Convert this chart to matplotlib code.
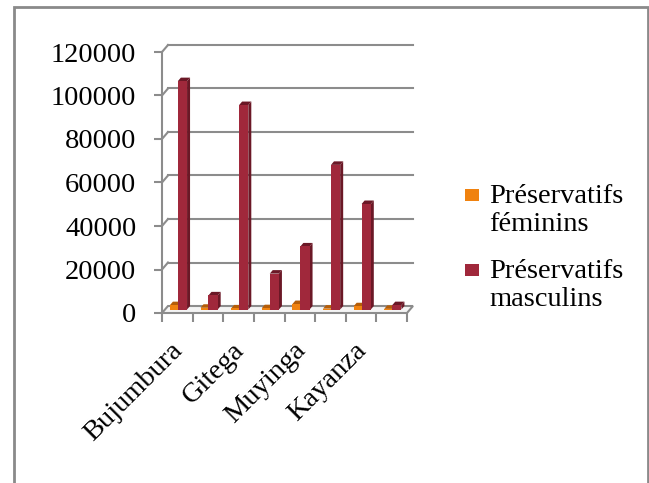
import matplotlib
matplotlib.use("Agg")
import matplotlib.pyplot as plt
import matplotlib.patches as mpatches
import numpy as np

# ── Data ───────────────────────────────────────────────
# only every other province name is printed under the axis
CATEGORIES = ["Bujumbura", "", "Gitega", "", "Muyinga", "", "Kayanza", ""]
FEMININS   = [2000, 800, 500, 600, 2500, 400, 1500, 300]
MASCULINS  = [105000, 6500, 94000, 16500, 29000, 66500, 48500, 2000]
SERIES     = ["Préservatifs\nféminins", "Préservatifs\nmasculins"]
YTICKS     = [0, 20000, 40000, 60000, 80000, 100000, 120000]

# ── Style ──────────────────────────────────────────────
FONT      = "Liberation Serif"
FS        = 20.5
COL_FEM   = "#f0820f"
COL_FEM_D = "#b55d08"
COL_MAS   = "#a0283b"
COL_MAS_D = "#6b1826"
COL_GRID  = "#8c8c8c"

plt.rcParams.update({
    "font.family": FONT,
    "figure.facecolor": "white",
    "axes.facecolor": "none",
})

W, H = 649, 483
fig = plt.figure(figsize=(W / 100, H / 100), dpi=100)

# front plane of the plot area, in pixels
X0, X1, Y0, Y1 = 162, 407, 313, 52
ax = fig.add_axes([X0 / W, 1 - Y0 / H, (X1 - X0) / W, (Y0 - Y1) / H])
n = len(CATEGORIES)
ax.set_xlim(0, n)
ax.set_ylim(0, 120000)
for s in ax.spines.values():
    s.set_visible(False)

# depth of the walls converted from pixels to data units
px_x = n / (X1 - X0)
px_y = 120000 / (Y0 - Y1)
DX, DY = 6 * px_x, 7 * px_y
BDX, BDY = 3 * px_x, 3.5 * px_y   # depth of one bar

# floor
floor = mpatches.Polygon([(0, 0), (n, 0), (n + DX, DY), (DX, DY)],
                         closed=True, facecolor="#f4f4f4",
                         edgecolor=COL_GRID, linewidth=1.5,
                         clip_on=False, zorder=1)
ax.add_patch(floor)

# side wall edge and back wall gridlines
ax.plot([0, 0], [0, 120000], color=COL_GRID, lw=1.5, clip_on=False, zorder=1)
for v in YTICKS[1:]:
    ax.plot([0, DX], [v, v + DY], color=COL_GRID, lw=1.5,
            clip_on=False, zorder=1)
    ax.plot([DX, n + DX], [v + DY, v + DY], color=COL_GRID, lw=1.5,
            clip_on=False, zorder=1)


def bar3d(xc, w, h, front, side):
    x0 = xc - w / 2 + DX / 2
    x1 = x0 + w
    b = DY / 2
    ax.fill([x1, x1 + BDX, x1 + BDX, x1], [b, b + BDY, b + h + BDY, b + h],
            color=side, lw=0, zorder=3, clip_on=False)
    ax.fill([x0, x1, x1 + BDX, x0 + BDX],
            [b + h, b + h, b + h + BDY, b + h + BDY],
            color=side, lw=0, zorder=3, clip_on=False)
    ax.bar(x0, h, width=w, bottom=b, align="edge", color=front,
           lw=0, zorder=4, clip_on=False)


for i in range(n):
    bar3d(i + 0.29, 0.26, FEMININS[i], COL_FEM, COL_FEM_D)
    bar3d(i + 0.57, 0.30, MASCULINS[i], COL_MAS, COL_MAS_D)

# ── Axes ticks ─────────────────────────────────────────
ax.set_yticks(YTICKS)
ax.set_yticklabels([str(v) for v in YTICKS])
ax.tick_params(axis="y", direction="out", length=5.5, width=1.5,
               color=COL_GRID, pad=13, labelsize=FS)

ax.set_xticks(np.arange(n + 1))
ax.set_xticklabels([])
ax.set_xticks(np.arange(n) + 0.85, minor=True)
ax.set_xticklabels(CATEGORIES, minor=True, rotation=45,
                   ha="right", va="top", fontsize=FS)
ax.tick_params(axis="x", which="major", direction="out", length=6.5,
               width=1.5, color=COL_GRID)
ax.tick_params(axis="x", which="minor", length=0, pad=18)

# ── Legend ─────────────────────────────────────────────
for k, (lab, col) in enumerate(zip(SERIES, [COL_FEM, COL_MAS])):
    ytop = 186 + k * 75
    fig.patches.append(mpatches.Rectangle(
        (465 / W, 1 - (ytop + 15) / H), 14 / W, 12 / H,
        transform=fig.transFigure, facecolor=col, edgecolor="none"))
    fig.text(489 / W, 1 - (ytop - 2) / H, lab, ha="left", va="top",
             fontsize=FS, linespacing=1.15)

# outer border
fig.patches.append(mpatches.Rectangle(
    (14 / W, -0.1), (648 - 14) / W, 1.1 - 7 / H,
    transform=fig.transFigure, facecolor="none",
    edgecolor="#8a8a8a", linewidth=2))

fig.savefig("out.png", dpi=100)
